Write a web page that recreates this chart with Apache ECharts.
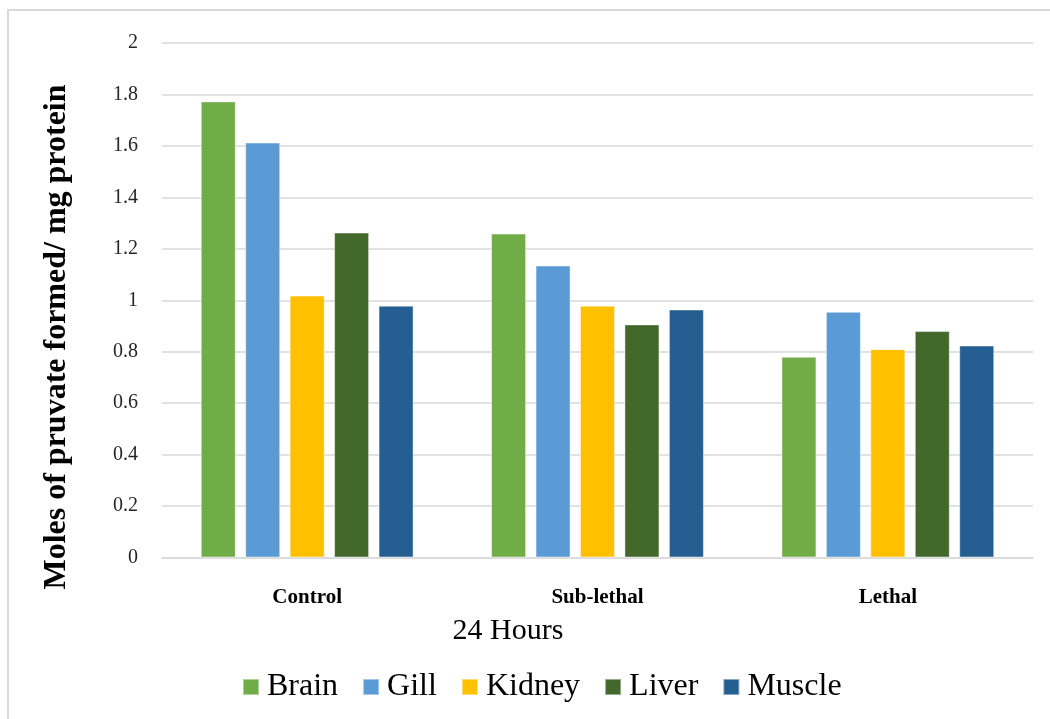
<!DOCTYPE html>
<html>
<head>
<meta charset="utf-8">
<script src="https://cdn.jsdelivr.net/npm/echarts@6/dist/echarts.min.js"></script>
<style>
  html, body { margin: 0; padding: 0; background: #ffffff; }
  #chart { width: 1050px; height: 719px; }
</style>
</head>
<body>
<div id="chart"></div>
<script>
// Pyruvate formed per mg protein after 24 hours of exposure
const categories = ['Control', 'Sub-lethal', 'Lethal'];
const tissues = ['Brain', 'Gill', 'Kidney', 'Liver', 'Muscle'];
const brain  = [1.773, 1.259, 0.780];
const gill   = [1.613, 1.135, 0.955];
const kidney = [1.018, 0.979, 0.810];
const liver  = [1.263, 0.906, 0.880];
const muscle = [0.979, 0.964, 0.824];
const colors = ['#70AD47', '#5B9BD5', '#FFC000', '#43682B', '#255E91'];
const yTitle = 'Moles of pruvate formed/ mg protein';
const xTitle = '24 Hours';

const seriesValues = [brain, gill, kidney, liver, muscle];
const serif = "'Liberation Serif', 'Times New Roman', serif";

const chart = echarts.init(document.getElementById('chart'), null, { renderer: 'canvas' });

chart.setOption({
  animation: false,
  backgroundColor: '#ffffff',
  color: colors,
  grid: { left: 162, right: 17, top: 43, bottom: 161.5, containLabel: false },
  xAxis: {
    type: 'category',
    data: categories,
    axisLine: { show: true, lineStyle: { color: '#d9d9d9', width: 1.5 } },
    axisTick: { show: false },
    axisLabel: {
      margin: 30,
      fontFamily: serif,
      fontSize: 21,
      fontWeight: 'bold',
      color: '#000000'
    }
  },
  yAxis: {
    type: 'value',
    min: 0,
    max: 2,
    interval: 0.2,
    axisLine: { show: false },
    axisTick: { show: false },
    splitLine: { lineStyle: { color: '#d9d9d9', width: 1.5 } },
    axisLabel: {
      margin: 24,
      fontFamily: serif,
      fontSize: 20,
      color: '#262626',
      formatter: v => String(Math.round(v * 10) / 10)
    }
  },
  legend: {
    data: tissues,
    left: 237,
    top: 666,
    itemWidth: 16,
    itemHeight: 16,
    itemGap: 24,
    icon: 'rect',
    textStyle: { fontFamily: serif, fontSize: 32, color: '#000000', padding: [0, 0, 0, 3] }
  },
  series: tissues.map((name, i) => ({
    name: name,
    type: 'bar',
    data: seriesValues[i],
    barWidth: 35,
    barGap: '27%',
    itemStyle: {
      color: colors[i],
      borderColor: 'rgba(255,255,255,0.45)',
      borderWidth: 1
    }
  })),
  graphic: [
    {
      type: 'polyline',
      silent: true,
      shape: { points: [[8, 719], [8, 10], [1050, 10]] },
      style: { stroke: '#d9d9d9', lineWidth: 2, fill: null }
    },
    {
      type: 'text',
      x: 57,
      y: 337,
      rotation: Math.PI / 2,
      style: {
        text: yTitle,
        fontFamily: serif,
        fontSize: 32,
        fontWeight: 'bold',
        fill: '#000000',
        textAlign: 'center',
        textVerticalAlign: 'middle'
      }
    },
    {
      type: 'text',
      x: 508,
      y: 631,
      style: {
        text: xTitle,
        fontFamily: serif,
        fontSize: 30,
        fill: '#000000',
        textAlign: 'center',
        textVerticalAlign: 'middle'
      }
    }
  ]
});
</script>
</body>
</html>
